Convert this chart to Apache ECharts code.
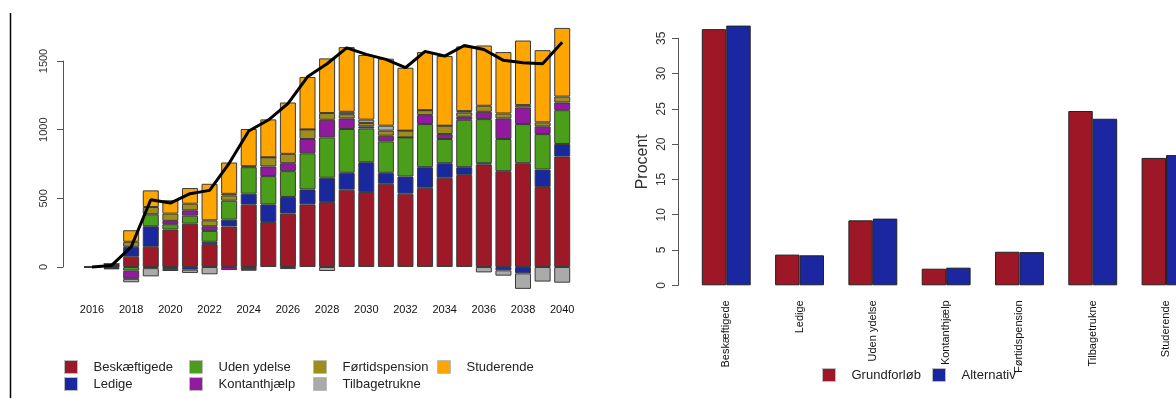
<!DOCTYPE html>
<html>
<head>
<meta charset="utf-8">
<script src="https://cdn.jsdelivr.net/npm/echarts@6/dist/echarts.min.js"></script>
<style>
  html, body { margin: 0; padding: 0; background: #fff; overflow: hidden; }
  #chart { width: 1210px; height: 398px; }
</style>
</head>
<body>
<div id="chart"></div>
<script>
// venstre figur: forløb pr. år
const years = ['2016', '2017', '2018', '2019', '2020', '2021', '2022', '2023', '2024', '2025', '2026', '2027', '2028',
    '2029', '2030', '2031', '2032', '2033', '2034', '2035', '2036', '2037', '2038', '2039', '2040'];

const beskaeftigede = [0, 6, 75, 147, 273, 316, 167, 295, 454, 328, 389, 456, 473, 563, 546, 606, 534, 577, 650, 671, 746, 698, 756, 582, 804];
const ledige = [0, 4, 72, 150, -14, -19, 17, 50, 80, 128, 121, 109, 177, 123, 217, 80, 125, 150, 106, 56, 10, -24, -46, 128, 92];
const udenYdelse = [0, 4, -26, 87, 39, 58, 79, 138, 193, 206, 188, 263, 294, 319, 246, 229, 285, 314, 176, 345, 321, 234, 285, 258, 246];
const kontanthjaelp = [0, -7, -60, -8, 24, 39, 34, -22, -15, 70, 58, 104, 128, 77, 15, 41, 0, 65, 36, 22, 53, 150, 121, 56, 56];
const foertidspension = [0, 8, 37, 53, 53, 48, 43, 38, 7, 67, 68, 70, 49, 31, 25, 37, 49, 36, 61, 31, 44, 36, 17, 29, 43];
const tilbagetrukne = [0, -10, -25, -60, -15, -24, -53, 12, -12, 0, -15, 0, -29, 17, 24, 36, 0, 0, 0, 10, -39, -39, -113, -106, -114];
const studerende = [0, 2, 84, 121, 97, 114, 266, 228, 271, 276, 374, 382, 398, 471, 471, 488, 458, 423, 507, 471, 439, 447, 470, 526, 500];
const iAlt = [0, 12, 147, 490, 466, 534, 558, 755, 990, 1070, 1190, 1385, 1480, 1596, 1548, 1512, 1451, 1570, 1536, 1613, 1584, 1505, 1488, 1480, 1637];

// højre figur: fordeling i procent
const kategorier = ['Beskæftigede', 'Ledige', 'Uden ydelse', 'Kontanthjælp', 'Førtidspension', 'Tilbagetrukne', 'Studerende'];
const grundforloeb = [36.3, 4.35, 9.2, 2.35, 4.75, 24.7, 18.05];
const alternativ = [36.8, 4.25, 9.45, 2.5, 4.7, 23.6, 18.45];

const fontFamily = '"Liberation Sans", Arial, sans-serif';

const stackNames = ['Beskæftigede', 'Ledige', 'Uden ydelse', 'Kontanthjælp', 'Førtidspension', 'Tilbagetrukne', 'Studerende'];
const stackData = [beskaeftigede, ledige, udenYdelse, kontanthjaelp, foertidspension, tilbagetrukne, studerende];
const stackColors = ['#9E1928', '#1A289E', '#4A9E1A', '#921A9E', '#9E8D1A', '#AAAAAA', '#FFA500'];

const legendBase = {
    orient: 'vertical',
    icon: 'rect',
    padding: 0,
    itemWidth: 13,
    itemHeight: 13,
    itemGap: 3,
    selectedMode: false,
    itemStyle: { borderColor: '#bbb', borderWidth: 1 },
    textStyle: { fontSize: 13, lineHeight: 13, color: '#222', fontFamily: fontFamily, padding: [0, 0, 0, 11] }
};

const chart = echarts.init(document.getElementById('chart'));

const option = {
    animation: false,
    textStyle: { fontFamily: fontFamily },
    legend: [
        Object.assign({}, legendBase, { left: 64, top: 360, data: ['Beskæftigede', 'Ledige'] }),
        Object.assign({}, legendBase, { left: 189, top: 360, data: ['Uden ydelse', 'Kontanthjælp'] }),
        Object.assign({}, legendBase, { left: 313, top: 360, data: ['Førtidspension', 'Tilbagetrukne'] }),
        Object.assign({}, legendBase, { left: 437, top: 360, data: ['Studerende'] }),
        Object.assign({}, legendBase, { orient: 'horizontal', left: 822, top: 368, data: ['Grundforløb'] }),
        Object.assign({}, legendBase, { orient: 'horizontal', left: 932, top: 368, data: ['Alternativ'] })
    ],
    grid: [
        { left: 82.2, width: 489.8, top: 19.8, height: 274.7 },
        { left: 63, width: 10, top: 61, height: 206 },
        { left: 689.6, width: 513.1, top: 38.3, height: 247 }
    ],
    xAxis: [
        {
            type: 'category', gridIndex: 0, data: years,
            axisLine: { show: false }, axisTick: { show: false },
            axisLabel: { interval: 1, fontSize: 11, color: '#111', margin: 10 }
        },
        { type: 'value', gridIndex: 1, show: false },
        {
            type: 'category', gridIndex: 2, data: kategorier,
            axisLine: { show: false }, axisTick: { show: false },
            axisLabel: { interval: 0, rotate: 90, fontSize: 11, color: '#111', margin: 15 }
        }
    ],
    yAxis: [
        { type: 'value', gridIndex: 0, min: -200, max: 1800, show: false },
        {
            type: 'value', gridIndex: 1, min: 0, max: 1500, interval: 500,
            axisLine: { show: true, lineStyle: { color: '#555' } },
            axisTick: { show: true, length: 6, lineStyle: { color: '#555' } },
            axisLabel: { rotate: 90, fontSize: 11, color: '#333', margin: 14, formatter: v => String(v) },
            splitLine: { show: false }
        },
        {
            type: 'value', gridIndex: 2, min: 0, max: 35, interval: 5, offset: 11.6,
            name: 'Procent', nameLocation: 'middle', nameRotate: 90, nameGap: 27,
            nameTextStyle: { fontSize: 16, color: '#333' },
            axisLine: { show: true, lineStyle: { color: '#555' } },
            axisTick: { show: true, length: 6, lineStyle: { color: '#555' } },
            axisLabel: { rotate: 90, fontSize: 12, color: '#333', margin: 10 },
            splitLine: { show: false }
        }
    ],
    graphic: [
        { type: 'line', shape: { x1: 10.5, y1: 13, x2: 10.5, y2: 398 }, style: { stroke: '#000', lineWidth: 1.5 } }
    ],
    series: []
};

stackNames.forEach((name, i) => {
    option.series.push({
        name: name,
        type: 'bar',
        stack: 'forloeb',
        xAxisIndex: 0,
        yAxisIndex: 0,
        barWidth: 16,
        data: stackData[i],
        itemStyle: { color: stackColors[i], borderColor: '#3a3a3a', borderWidth: 1 }
    });
});

option.series.push({
    name: 'I alt',
    type: 'line',
    xAxisIndex: 0,
    yAxisIndex: 0,
    data: iAlt,
    symbol: 'none',
    z: 10,
    lineStyle: { color: '#000', width: 3 }
});

option.series.push(
    {
        name: 'Grundforløb', type: 'bar', xAxisIndex: 2, yAxisIndex: 2,
        barGap: 0, barCategoryGap: '33.3%', clip: false,
        data: grundforloeb,
        itemStyle: { color: '#9E1727', borderColor: '#222', borderWidth: 1 }
    },
    {
        name: 'Alternativ', type: 'bar', xAxisIndex: 2, yAxisIndex: 2,
        barGap: 0, barCategoryGap: '33.3%', clip: false,
        data: alternativ,
        itemStyle: { color: '#1A27A0', borderColor: '#222', borderWidth: 1 }
    }
);

chart.setOption(option);
</script>
</body>
</html>
